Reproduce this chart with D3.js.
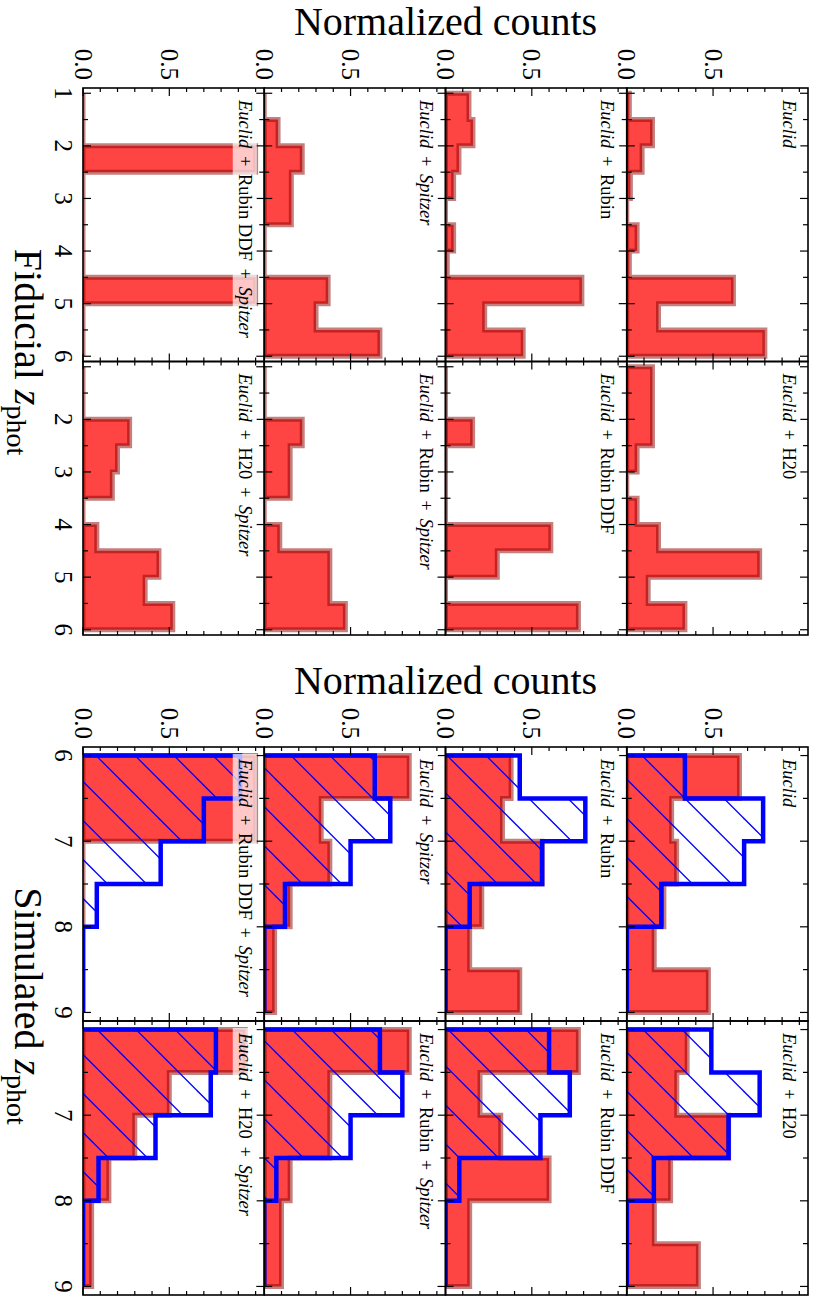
<!DOCTYPE html>
<html>
<head>
<meta charset="utf-8">
<script src="https://cdn.jsdelivr.net/npm/d3@7"></script>
<style>
  body { margin: 0; background: #fff; }
  svg { display: block; }
  text { font-family: "Liberation Serif", "DejaVu Serif", serif; fill: #000; white-space: pre; }
</style>
</head>
<body>
<svg id="chart" width="818" height="1297"></svg>
<script>
// ---- data ----
const fidEdges = [1, 1.5, 2, 2.5, 3, 3.5, 4, 4.5, 5, 5.5, 6];
const simEdges = [6, 6.5, 7, 7.5, 8, 8.5, 9];

const panelLabels = [
    ["Euclid", "Euclid + H20"],
    ["Euclid + Rubin", "Euclid + Rubin DDF"],
    ["Euclid + Spitzer", "Euclid + Rubin + Spitzer"],
    ["Euclid + Rubin DDF + Spitzer", "Euclid + H20 + Spitzer"]
];

// fiducial z_phot, normalized counts per bin
const fidEuclid             = [0.015, 0.149, 0.089, 0.021, 0.0, 0.06, 0.015, 0.618, 0.184, 0.80];
const fidEuclidH20          = [0.149, 0.149, 0.149, 0.06, 0.0, 0.06, 0.184, 0.77, 0.124, 0.337];
const fidEuclidRubin        = [0.136, 0.159, 0.078, 0.047, 0.0, 0.047, 0.01, 0.79, 0.227, 0.45];
const fidEuclidRubinDDF     = [0.0, 0.0, 0.157, 0.0, 0.0, 0.0, 0.61, 0.30, 0.0, 0.77];
const fidEuclidSpitzer      = [0.0, 0.08, 0.22, 0.157, 0.157, 0.0, 0.0, 0.37, 0.30, 0.67];
const fidEuclidRubinSpitzer = [0.0, 0.0, 0.22, 0.15, 0.15, 0.0, 0.09, 0.38, 0.38, 0.47];
const fidEuclidDDFSpitzer   = [0.0, 0.0, 1.0, 0.0, 0.0, 0.0, 0.0, 1.0, 0.0, 0.0];
const fidEuclidH20Spitzer   = [0.0, 0.0, 0.27, 0.2, 0.17, 0.0, 0.08, 0.44, 0.36, 0.52];

// simulated z_phot: red = fitted, blue = input
const simEuclidRed              = [0.653, 0.26, 0.289, 0.215, 0.159, 0.473];
const simEuclidBlue             = [0.337, 0.79, 0.68, 0.2, 0.0, 0.0];
const simEuclidH20Red           = [0.35, 0.29, 0.59, 0.254, 0.16, 0.415];
const simEuclidH20Blue          = [0.49, 0.77, 0.59, 0.157, 0.0, 0.0];
const simEuclidRubinRed         = [0.38, 0.33, 0.56, 0.21, 0.14, 0.43];
const simEuclidRubinBlue        = [0.43, 0.81, 0.56, 0.14, 0.0, 0.0];
const simEuclidRubinDDFRed      = [0.77, 0.2, 0.32, 0.6, 0.14, 0.14];
const simEuclidRubinDDFBlue     = [0.6, 0.72, 0.55, 0.08, 0.0, 0.0];
const simEuclidSpitzerRed       = [0.84, 0.33, 0.38, 0.15, 0.06, 0.06];
const simEuclidSpitzerBlue      = [0.64, 0.73, 0.5, 0.12, 0.0, 0.0];
const simEuclidRubinSpitzerRed  = [0.84, 0.38, 0.38, 0.15, 0.1, 0.1];
const simEuclidRubinSpitzerBlue = [0.67, 0.8, 0.5, 0.07, 0.0, 0.0];
const simEuclidDDFSpitzerRed    = [1.0, 1.0, 0.0, 0.0, 0.0, 0.0];
const simEuclidDDFSpitzerBlue   = [0.91, 0.7, 0.45, 0.08, 0.0, 0.0];
const simEuclidH20SpitzerRed    = [0.94, 0.5, 0.3, 0.15, 0.05, 0.05];
const simEuclidH20SpitzerBlue   = [0.77, 0.74, 0.42, 0.09, 0.0, 0.0];

// tick labels
const fidTickLabels = [[1, 2, 3, 4, 5, 6], [2, 3, 4, 5, 6]];
const simTickLabels = [[6, 7, 8, 9], [7, 8, 9]];
const countTickValues = [0, 0.5];
const countTickText = ["0.0", "0.5"];

// ---- layout (drawn in landscape, then turned a quarter turn clockwise) ----
const W = 818, H = 1297;
const rowTop = 10, rowH = 181.25;
const groups = [
    {
        blocks: [[88, 361.5], [361.5, 635]],
        domain: [0.9, 6.1],
        edges: fidEdges,
        ticks: fidTickLabels,
        red: [[fidEuclid, fidEuclidH20], [fidEuclidRubin, fidEuclidRubinDDF],
              [fidEuclidSpitzer, fidEuclidRubinSpitzer], [fidEuclidDDFSpitzer, fidEuclidH20Spitzer]],
        blue: null,
        title: "Fiducial", titleX: 352, countsX: 35
    },
    {
        blocks: [[747, 1021], [1021, 1295]],
        domain: [5.9, 9.1],
        edges: simEdges,
        ticks: simTickLabels,
        red: [[simEuclidRed, simEuclidH20Red], [simEuclidRubinRed, simEuclidRubinDDFRed],
              [simEuclidSpitzerRed, simEuclidRubinSpitzerRed], [simEuclidDDFSpitzerRed, simEuclidH20SpitzerRed]],
        blue: [[simEuclidBlue, simEuclidH20Blue], [simEuclidRubinBlue, simEuclidRubinDDFBlue],
               [simEuclidSpitzerBlue, simEuclidRubinSpitzerBlue], [simEuclidDDFSpitzerBlue, simEuclidH20SpitzerBlue]],
        title: "Simulated", titleX: 1006, countsX: 694
    }
];

const svg = d3.select("#chart");
const defs = svg.append("defs");

// hatch, fixed to the canvas like matplotlib does it
const hatch = defs.append("pattern")
    .attr("id", "hatch")
    .attr("patternUnits", "userSpaceOnUse")
    .attr("width", 39).attr("height", 39);
[34.5 - 39, 34.5, 34.5 + 39].forEach(function(c) {
    hatch.append("line")
        .attr("x1", -10).attr("y1", c + 10)
        .attr("x2", 49).attr("y2", c - 49)
        .attr("stroke", "#0000ff").attr("stroke-width", 1.3);
});

const root = svg.append("g").attr("transform", `translate(${W},0) rotate(90)`);

// step outline of a histogram, as [z, count] pairs
function stepPoints(edges, values) {
    const pts = [[edges[0], 0]];
    values.forEach(function(v, i) {
        pts.push([edges[i], v]);
        pts.push([edges[i + 1], v]);
    });
    pts.push([edges[edges.length - 1], 0]);
    return pts;
}

function addLabel(g, x, y, label) {
    const t = g.append("text")
        .attr("x", x).attr("y", y)
        .attr("font-size", 18.5);
    label.split(" + ").forEach(function(part, i) {
        if (i > 0) t.append("tspan").attr("dx", 3).text(" + ");
        t.append("tspan")
            .attr("dx", i > 0 ? 3 : 0)
            .attr("font-style", (part === "Euclid" || part === "Spitzer") ? "italic" : "normal")
            .text(part);
    });
    return t;
}

let clipCount = 0;

groups.forEach(function(grp) {
    grp.blocks.forEach(function(block, c) {
        const x = d3.scaleLinear().domain(grp.domain).range(block);

        for (let r = 0; r < 4; r++) {
            const y0 = rowTop + r * rowH, y1 = y0 + rowH;
            const y = d3.scaleLinear().domain([0, 1.05]).range([y1, y0]);
            const panel = root.append("g");

            const clipId = "clip" + (clipCount++);
            defs.append("clipPath").attr("id", clipId)
                .append("rect")
                .attr("x", block[0]).attr("y", y0)
                .attr("width", block[1] - block[0]).attr("height", rowH);

            const line = d3.line().x(d => x(d[0])).y(d => y(d[1]));
            const plot = panel.append("g").attr("clip-path", `url(#${clipId})`);

            // red stepfilled histogram
            plot.append("path")
                .attr("d", line(stepPoints(grp.edges, grp.red[r][c])) + "Z")
                .attr("fill", "#ff4444")
                .attr("stroke", "#8b0000")
                .attr("stroke-opacity", 0.5)
                .attr("stroke-width", 5)
                .attr("stroke-linejoin", "miter");

            // blue hatched step histogram
            if (grp.blue) {
                const pts = stepPoints(grp.edges, grp.blue[r][c]);
                plot.append("path")
                    .attr("d", line(pts) + "Z")
                    .attr("fill", "url(#hatch)")
                    .attr("stroke", "none");
                plot.append("path")
                    .attr("d", line(pts))
                    .attr("fill", "none")
                    .attr("stroke", "#0000ff")
                    .attr("stroke-width", 4.5)
                    .attr("stroke-linejoin", "miter");
            }

            // ticks, inward on all four sides
            const ticks = panel.append("g").attr("stroke", "#000").attr("stroke-width", 1.2);
            const zMajor = d3.range(Math.ceil(grp.domain[0]), Math.floor(grp.domain[1]) + 1);
            const zMinor = zMajor.map(v => v + 0.5).filter(v => v < grp.domain[1]);
            [[zMajor, 8], [zMinor, 5]].forEach(function(set) {
                set[0].forEach(function(v) {
                    ticks.append("line").attr("x1", x(v)).attr("x2", x(v)).attr("y1", y1).attr("y2", y1 - set[1]);
                    ticks.append("line").attr("x1", x(v)).attr("x2", x(v)).attr("y1", y0).attr("y2", y0 + set[1]);
                });
            });
            d3.range(0, 11).forEach(function(k) {
                const v = k / 10;
                const len = (k === 0 || k === 5) ? 8 : 4;
                ticks.append("line").attr("x1", block[0]).attr("x2", block[0] + len).attr("y1", y(v)).attr("y2", y(v));
                ticks.append("line").attr("x1", block[1]).attr("x2", block[1] - len).attr("y1", y(v)).attr("y2", y(v));
            });

            // frame
            panel.append("rect")
                .attr("x", block[0]).attr("y", y0)
                .attr("width", block[1] - block[0]).attr("height", rowH)
                .attr("fill", "none").attr("stroke", "#000").attr("stroke-width", 1.6);

            // label with a faint white box
            const label = addLabel(panel, block[0] + 12, y0 + 25.5, panelLabels[r][c]);
            const bb = label.node().getBBox();
            panel.insert("rect", "text")
                .attr("x", bb.x - 4).attr("y", bb.y - 2)
                .attr("width", bb.width + 8).attr("height", bb.height + 4)
                .attr("fill", "#fff").attr("fill-opacity", 0.7);

            // count tick labels on the first block only
            if (c === 0) {
                countTickValues.forEach(function(v, i) {
                    panel.append("text")
                        .attr("x", block[0] - 8).attr("y", y(v))
                        .attr("text-anchor", "end")
                        .attr("dominant-baseline", "central")
                        .attr("font-size", 25)
                        .text(countTickText[i]);
                });
            }

            // z tick labels on the bottom row only
            if (r === 3) {
                grp.ticks[c].forEach(function(v) {
                    panel.append("text")
                        .attr("x", x(v)).attr("y", y1 + 28)
                        .attr("text-anchor", "middle")
                        .attr("font-size", 25)
                        .text(v);
                });
            }
        }
    });

    // axis titles
    root.append("text")
        .attr("transform", `translate(${grp.countsX},${rowTop + 2 * rowH}) rotate(-90)`)
        .attr("text-anchor", "middle")
        .attr("font-size", 40)
        .text("Normalized counts");

    const xt = root.append("text")
        .attr("x", grp.titleX).attr("y", 803)
        .attr("text-anchor", "middle")
        .attr("font-size", 40);
    xt.append("tspan").text(grp.title + " ");
    xt.append("tspan").attr("font-style", "italic").text("z");
    xt.append("tspan").attr("font-size", 28).attr("dy", 8).text("phot");
});
</script>
</body>
</html>
